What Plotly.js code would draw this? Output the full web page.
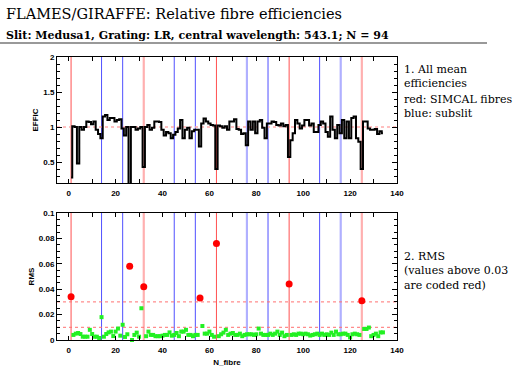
<!DOCTYPE html>
<html>
<head>
<meta charset="utf-8">
<script src="https://cdn.plot.ly/plotly-3.0.1.min.js"></script>
<style>html,body{margin:0;padding:0;background:#fff;}#chart{width:532px;height:372px;}</style>
</head>
<body>
<div id="chart"></div>
<script>
// ---------------- data ----------------
const fibres = [1,2,3,4,5,6,7,8,9,10,11,12,13,14,15,16,17,18,19,20,
  21,22,23,24,25,26,27,28,29,30,31,32,33,34,35,36,37,38,39,40,
  41,42,43,44,45,46,47,48,49,50,51,52,53,54,55,56,57,58,59,60,
  61,62,63,64,65,66,67,68,69,70,71,72,73,74,75,76,77,78,79,80,
  81,82,83,84,85,86,87,88,89,90,91,92,93,94,95,96,97,98,99,100,
  101,102,103,104,105,106,107,108,109,110,111,112,113,114,115,116,117,118,119,120,
  121,122,123,124,125,126,127,128,129,130,131,132,133,134];

const efficiency = [0.28,1.01,1.00,0.48,1.00,0.96,1.00,1.08,1.07,1.04,
  1.08,0.96,0.90,0.84,1.15,1.17,1.10,1.13,1.13,1.08,
  1.10,1.11,0.98,0.88,1.00,0.05,1.00,1.00,0.96,0.98,
  1.00,0.43,1.00,1.03,0.96,0.99,1.08,1.08,1.07,0.96,
  0.88,0.93,0.91,0.84,0.89,0.93,0.98,1.10,0.84,0.96,
  0.99,0.84,0.94,0.96,0.96,0.72,1.05,1.12,1.08,1.05,
  1.03,1.02,0.40,1.02,1.01,0.99,1.01,0.96,1.08,1.08,
  1.11,0.97,0.96,0.90,0.91,0.74,1.08,0.96,1.08,0.91,
  1.08,1.10,0.99,0.84,1.05,1.05,1.08,1.07,1.03,1.02,
  1.05,1.01,1.03,0.57,0.81,0.91,1.10,1.05,0.98,1.02,
  1.10,1.10,1.02,1.05,0.93,0.93,1.03,1.08,1.05,0.93,
  0.86,1.15,0.96,0.84,1.03,0.91,1.10,0.84,1.08,0.84,
  1.13,1.15,0.84,0.79,0.40,1.08,1.08,0.98,0.96,0.96,
  0.97,0.90,0.94,0.91];

const rms = [0.034,0.004,0.005,0.0055,0.0047,0.0026,0.0026,0.0026,0.008,0.0047,
  0.0026,0.0026,0.0016,0.018,0.0026,0.0047,0.006,0.0066,0.0031,0.0066,
  0.009,0.0034,0.012,0.0024,0.0045,0.058,0.0,0.004,0.0058,0.0026,
  0.025,0.042,0.003,0.0066,0.004,0.004,0.003,0.003,0.003,0.0034,
  0.004,0.004,0.006,0.0034,0.004,0.0055,0.003,0.0066,0.0066,0.008,
  0.004,0.004,0.003,0.004,0.004,0.033,0.011,0.005,0.005,0.0066,
  0.004,0.0026,0.076,0.003,0.0045,0.0058,0.008,0.004,0.005,0.0055,
  0.004,0.004,0.005,0.003,0.004,0.0045,0.0045,0.0045,0.004,0.0045,
  0.009,0.005,0.004,0.004,0.004,0.005,0.004,0.005,0.0066,0.004,
  0.0058,0.003,0.004,0.044,0.004,0.0045,0.004,0.005,0.005,0.0045,
  0.005,0.0045,0.0035,0.004,0.0045,0.005,0.004,0.005,0.004,0.0045,
  0.004,0.0058,0.004,0.0066,0.0045,0.0045,0.005,0.005,0.004,0.002,
  0.0045,0.005,0.0045,0.004,0.031,0.0087,0.0087,0.0098,0.003,0.004,
  0.005,0.003,0.006,0.006];

const simcalFibres = [1, 32, 63, 94, 125];
const subslitFibres = [14, 23, 45, 54, 76, 85, 107, 116];
const rmsThreshold = 0.03;
const rmsLowLimit = 0.01;
const effReference = 1;

const titleText = 'FLAMES/GIRAFFE: Relative fibre efficiencies';
const subtitleText = 'Slit: Medusa1, Grating: LR, central wavelength: 543.1; N = 94';
const noteBlocks = [
  ['1. All mean', 'efficiencies'],
  ['red: SIMCAL fibres', 'blue: subslit'],
  ['2. RMS', '(values above 0.03', 'are coded red)']
];

// ---------------- styling helpers ----------------
const W = 532, H = 372;
const px2x = p => p / W;
const px2y = p => 1 - p / H;
// lines drawn lighter/wider in the reference
const paleLines = new Set([32, 125, 76, 116]);

const tickFont = {family: 'Liberation Sans, Arial, sans-serif', size: 8, color: '#000', weight: 'bold'};

const redX = [], redY = [], grnX = [], grnY = [];
fibres.forEach((f, i) => {
  if (rms[i] > rmsThreshold) { redX.push(f); redY.push(rms[i]); }
  else { grnX.push(f); grnY.push(rms[i]); }
});

const traces = [
  {x: fibres, y: efficiency, xaxis: 'x', yaxis: 'y', mode: 'lines',
   line: {color: '#000', width: 2, shape: 'hvh'}, hoverinfo: 'skip'},
  {x: grnX, y: grnY, xaxis: 'x2', yaxis: 'y2', mode: 'markers',
   marker: {color: '#22f022', size: 4, symbol: 'square'}, hoverinfo: 'skip', cliponaxis: false},
  {x: redX, y: redY, xaxis: 'x2', yaxis: 'y2', mode: 'markers',
   marker: {color: '#ff0000', size: 7, symbol: 'circle'}, hoverinfo: 'skip'}
];

const shapes = [];
[['x', 'y'], ['x2', 'y2']].forEach(([xa, ya]) => {
  simcalFibres.forEach(f => shapes.push({type: 'line', layer: 'below', xref: xa, yref: ya + ' domain',
    x0: f, x1: f, y0: 0, y1: 1,
    line: paleLines.has(f) ? {color: '#ffb0b0', width: 2.2} : {color: '#ff5050', width: 1}}));
  subslitFibres.forEach(f => shapes.push({type: 'line', layer: 'below', xref: xa, yref: ya + ' domain',
    x0: f, x1: f, y0: 0, y1: 1,
    line: paleLines.has(f) ? {color: '#b0b0ff', width: 2.2} : {color: '#5050ff', width: 1}}));
});
shapes.push({type: 'line', layer: 'below', xref: 'x domain', yref: 'y', x0: 0, x1: 1,
  y0: effReference, y1: effReference, line: {color: '#ffaaaa', width: 1.5, dash: 'dot'}});
[rmsThreshold, rmsLowLimit].forEach(v => shapes.push({type: 'line', layer: 'below', xref: 'x2 domain', yref: 'y2',
  x0: 0, x1: 1, y0: v, y1: v, line: {color: '#ff7070', width: 1, dash: 'dot'}}));
shapes.push({type: 'line', xref: 'paper', yref: 'paper', x0: 0, x1: px2x(487), y0: px2y(43), y1: px2y(43),
  line: {color: '#999', width: 2}});

const annotations = [];
annotations.push({text: titleText, xref: 'paper', yref: 'paper', x: px2x(4), y: px2y(14),
  xanchor: 'left', yanchor: 'middle', showarrow: false,
  font: {family: 'DejaVu Serif, serif', size: 14.5, color: '#000'}});
annotations.push({text: subtitleText, xref: 'paper', yref: 'paper', x: px2x(4), y: px2y(35),
  xanchor: 'left', yanchor: 'middle', showarrow: false,
  font: {family: 'DejaVu Serif, serif', size: 11, color: '#000', weight: 'bold'}});
const blockCentersY = [76.5, 107, 270.5];
noteBlocks.forEach((lines, i) => annotations.push({text: lines.join('<br>'), xref: 'paper', yref: 'paper',
  x: px2x(403), y: px2y(blockCentersY[i]), xanchor: 'left', yanchor: 'middle', align: 'left', showarrow: false,
  borderpad: 0, font: {family: 'DejaVu Serif, serif', size: 11, color: '#000'}}));

const xDomain = [px2x(57), px2x(397)];
const axisCommon = {showline: true, linecolor: '#000', linewidth: 1, mirror: 'allticks',
  ticks: 'inside', tickcolor: '#000', showgrid: false, zeroline: false, tickfont: tickFont, fixedrange: true};

const layout = {
  width: W, height: H, margin: {l: 0, r: 0, t: 0, b: 0},
  paper_bgcolor: '#fff', plot_bgcolor: '#fff', showlegend: false,
  xaxis: Object.assign({}, axisCommon, {domain: xDomain, anchor: 'y', range: [-5, 140],
    dtick: 20, tick0: 0, ticklen: 4, ticklabelstandoff: 2, minor: {dtick: 10, ticklen: 4, ticks: 'inside', tickcolor: '#000'}}),
  yaxis: Object.assign({}, axisCommon, {domain: [px2y(183), px2y(57)], anchor: 'x', range: [0.2, 2],
    dtick: 0.5, tick0: 0, ticklen: 5, minor: {dtick: 0.1, ticklen: 3, ticks: 'inside', tickcolor: '#000'},
    title: {text: 'EFFIC', font: {family: 'Liberation Sans, Arial, sans-serif', size: 8, weight: 'bold', color: '#000'}, standoff: 3}}),
  xaxis2: Object.assign({}, axisCommon, {domain: xDomain, anchor: 'y2', range: [-5, 140],
    dtick: 20, tick0: 0, ticklen: 4, ticklabelstandoff: 2, minor: {dtick: 10, ticklen: 4, ticks: 'inside', tickcolor: '#000'},
    title: {text: 'N_fibre', font: {family: 'Liberation Sans, Arial, sans-serif', size: 8, weight: 'bold', color: '#000'}, standoff: 5}}),
  yaxis2: Object.assign({}, axisCommon, {domain: [px2y(340), px2y(213)], anchor: 'x2', range: [0, 0.1],
    dtick: 0.02, tick0: 0, ticklen: 5, minor: {dtick: 0.005, ticklen: 3, ticks: 'inside', tickcolor: '#000'},
    title: {text: 'RMS', font: {family: 'Liberation Sans, Arial, sans-serif', size: 8, weight: 'bold', color: '#000'}, standoff: 3}}),
  shapes: shapes,
  annotations: annotations
};

Plotly.newPlot('chart', traces, layout, {staticPlot: true, displayModeBar: false});
</script>
</body>
</html>
